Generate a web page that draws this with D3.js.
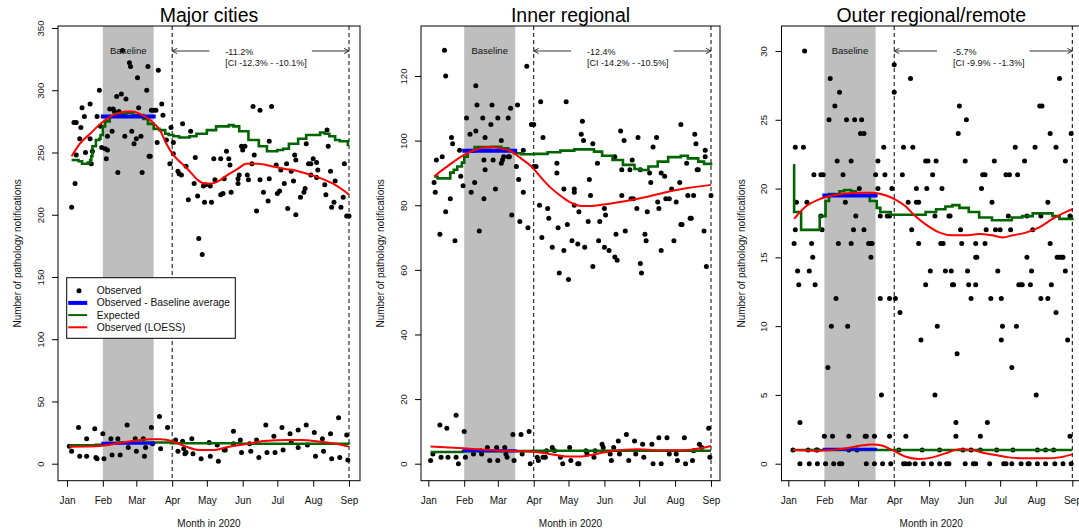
<!DOCTYPE html>
<html>
<head>
<meta charset="utf-8">
<script src="https://cdn.jsdelivr.net/npm/d3@7"></script>
<style>
  body { margin: 0; background: #fff; }
  svg { display: block; font-family: "Liberation Sans", Arial, Helvetica, sans-serif; }
</style>
</head>
<body>
<div id="container"></div>
<script>
/* DATA  (day = days since 1 Jan 2020) */
const titles = ["Major cities", "Inner regional", "Outer regional/remote"];
const changeText = ["-11.2%", "-12.4%", "-5.7%"];
const ciText = ["[CI -12.3% - -10.1%]", "[CI -14.2% - -10.5%]", "[CI -9.9% - -1.3%]"];
const legendItems = ["Observed", "Observed - Baseline average", "Expected", "Observed (LOESS)"];
const baselineDays = [31, 75];     // Feb 1 - mid March
const comparisonDays = [91, 244];  // Apr 1 - Sep 1
const yMaxes = [350, 120, 30];
const ySteps = [50, 20, 5];
// [upper, lower] baseline averages
const baselineAvg = [[279, 16.4], [96.9, 4.0], [19.5, 1.05]];

const majorObs = [[4,206],[6,274],[7,225],[8,274],[8,248],[11,261],[12,270],[13,286],[15,279],[16,250],[20,289],[20,261],[21,241],[22,251],[26,279],[28,300],[29,271],[30,254],[33,253],[34,245],[35,263],[35,252],[37,285],[39,267],[40,285],[41,283],[43,295],[44,234],[45,283],[46,280],[47,297],[48,332],[50,263],[51,293],[54,322],[55,319],[56,267],[58,257],[60,261],[61,310],[62,286],[64,263],[65,234],[69,300],[70,319],[71,247],[72,247],[73,284],[75,284],[77,284],[78,258],[79,316],[82,289],[83,280],[86,260],[89,241],[90,270],[92,258],[92,249],[96,235],[97,233],[99,232],[100,273],[103,239],[105,212],[107,267],[110,225],[111,246],[113,215],[114,181],[117,168],[118,223],[119,210],[120,224],[124,223],[125,210],[127,245],[128,228],[133,245],[133,216],[135,217],[136,229],[138,251],[140,245],[141,240],[142,218],[148,225],[148,229],[149,232],[151,255],[152,252],[154,255],[156,232],[157,228],[160,241],[161,287],[162,248],[164,203],[167,228],[167,284],[170,218],[174,211],[175,259],[175,229],[177,287],[181,240],[182,217],[184,219],[185,236],[188,225],[190,241],[191,205],[194,235],[196,227],[197,248],[198,244],[198,200],[202,214],[205,218],[206,221],[207,257],[209,241],[211,232],[211,241],[213,245],[216,242],[216,230],[217,236],[223,224],[224,216],[225,268],[226,255],[228,235],[229,206],[231,210],[232,227],[237,206],[239,214],[240,241],[242,199],[244,199]];
const majorObsLow = [[2,14],[4,10],[10,29],[11,6],[17,20],[17,6],[24,28],[25,5],[26,4],[31,24],[32,4],[38,20],[39,7],[44,20],[46,7],[52,31],[53,13],[59,20],[60,10],[66,20],[67,6],[68,13],[73,29],[74,16],[80,38],[81,12],[87,29],[94,19],[96,10],[100,18],[101,12],[102,8],[103,9],[108,20],[109,8],[116,4],[123,17],[124,6],[130,15],[131,2],[136,11],[137,11],[144,26],[144,16],[150,19],[151,9],[158,16],[159,10],[164,19],[166,5],[172,31],[173,9],[179,22],[180,9],[186,29],[187,11],[193,24],[194,17],[200,27],[200,13],[207,31],[208,15],[214,25],[215,6],[221,20],[222,10],[228,24],[229,4],[235,37],[236,5],[242,23],[243,3]];
const majorExpected = [[4,244],[10,243],[13,241],[18,242],[20,244],[21,247],[22,255],[25,260],[28,261],[29,264],[31,271],[33,275],[37,279],[41,281],[51,282],[57,280],[62,280],[66,277],[70,273],[75,269],[80,268],[85,265],[88,264],[92,263],[97,262],[106,263],[112,265],[121,268],[129,271],[140,272],[144,271],[149,267],[157,260],[166,255],[173,251],[182,252],[187,253],[192,257],[200,261],[207,264],[219,266],[223,265],[227,263],[232,260],[236,259],[243,256],[244,256]];
const majorExpectedLow = [[2,14.8],[25,15.2],[35,16.5],[45,17],[80,17],[90,16.4],[150,16],[244,15.6]];
const majorLoess = [[4,247],[11,257],[20,265],[29,273],[40,280],[52,283],[57,283],[63,281],[72,276],[81,267],[86,257],[92,248],[96,244],[102,239],[108,233],[113,228],[120,225],[125,225],[131,227],[139,232],[148,237],[155,241],[165,241],[177,239],[188,237],[200,235],[211,232],[223,228],[232,224],[240,219],[244,216]];
const majorLoessLow = [[2,13.7],[29,14.3],[52,17.7],[72,19.6],[81,19.6],[92,17.7],[103,13.7],[115,11],[127,11],[138,13.2],[155,15.8],[173,18.5],[190,19],[203,19],[219,17.7],[230,16.4],[244,13.7]];

const innerObs = [[5,87],[6,84],[7,94],[10,71],[12,95],[14,128],[15,120],[15,78],[19,82],[20,101],[21,99],[23,69],[27,97],[28,89],[30,86],[33,107],[36,102],[37,84],[40,87],[41,117],[41,103],[42,111],[44,72],[47,107],[48,94],[48,82],[49,101],[49,91],[54,105],[55,111],[56,94],[58,85],[60,107],[63,100],[63,93],[64,94],[65,95],[69,107],[69,95],[70,95],[71,110],[72,77],[76,92],[77,111],[78,88],[79,75],[82,97],[82,84],[85,123],[86,73],[89,105],[91,105],[91,92],[93,92],[96,80],[97,112],[98,70],[99,101],[103,79],[104,76],[107,67],[111,93],[111,90],[112,73],[113,59],[117,66],[117,85],[119,112],[120,74],[121,57],[124,69],[126,85],[126,84],[126,80],[129,68],[130,78],[132,102],[133,106],[134,100],[135,67],[138,75],[139,88],[140,83],[142,99],[142,61],[146,93],[147,69],[148,75],[152,79],[152,67],[153,77],[156,66],[161,95],[161,64],[162,71],[163,63],[166,103],[167,83],[167,91],[169,100],[170,72],[174,91],[175,82],[176,94],[177,82],[180,79],[181,101],[183,91],[183,62],[184,59],[187,71],[188,69],[189,78],[191,90],[192,87],[194,98],[197,101],[198,81],[199,79],[201,90],[201,66],[204,89],[205,82],[208,82],[210,85],[212,69],[214,81],[217,87],[218,105],[218,74],[219,74],[223,93],[224,83],[226,76],[227,76],[229,83],[230,102],[231,99],[232,91],[233,91],[238,72],[239,95],[239,97],[240,61],[244,83]];
const innerObsLow = [[2,1],[4,3],[10,12],[11,2],[16,11],[17,2],[24,15],[24,2],[26,0],[31,10],[32,2],[39,3],[45,4],[46,3],[51,5],[53,1],[59,5],[60,1],[66,5],[67,3],[68,2],[73,9],[74,1],[80,9],[81,3],[87,10],[88,0],[94,2],[95,1],[99,2],[101,2],[102,4],[107,5],[109,4],[114,2],[116,0],[122,5],[123,1],[129,0],[130,0],[136,4],[137,3],[143,2],[144,4],[150,6],[151,5],[157,3],[158,1],[160,5],[164,7],[165,3],[171,9],[173,1],[178,7],[179,3],[185,6],[186,2],[193,6],[194,0],[199,8],[201,0],[206,8],[208,3],[214,3],[215,1],[221,8],[222,0],[228,1],[229,4],[234,6],[236,5],[242,11],[243,2]];
const innerExpected = [[5,88.9],[8,88.3],[19,90.1],[22,91],[25,92],[29,93.2],[31,95],[34,96.6],[40,98],[54,98.1],[63,97.6],[69,96.9],[74,96.1],[80,95.8],[91,95.9],[103,96.4],[114,96.9],[126,97.3],[136,97.3],[143,96.6],[150,95.3],[159,94],[168,92.5],[178,91.2],[183,90.9],[190,92],[198,93.5],[207,94.9],[218,95.3],[224,94.5],[233,93.5],[238,92.8],[244,92.3]];
const innerExpectedLow = [[2,3.6],[30,3.9],[90,4],[244,4]];
const innerLoess = [[5,88.9],[14,91.4],[22,93.5],[31,95.6],[40,97.1],[51,98],[63,97.6],[72,96.6],[80,94.5],[89,92],[98,88.3],[106,85.3],[115,82.7],[123,80.8],[132,79.8],[141,79.8],[155,80.4],[172,81.4],[190,82.7],[207,84.2],[224,85.3],[244,86.3]];
const innerLoessLow = [[2,5.3],[30,4.8],[60,4.1],[90,3.7],[105,3],[120,2.2],[130,2.2],[145,3],[160,4],[180,4.5],[200,4.2],[220,4.2],[235,4.8],[244,5.5]];

const outerObs = [[14,30],[91,29],[36,28],[105,28],[233,28],[44,27],[91,27],[40,26],[147,26],[216,26],[218,26],[35,25],[50,25],[57,25],[63,25],[153,25],[62,24],[65,24],[146,24],[225,24],[243,24],[6,23],[13,23],[82,23],[99,23],[107,23],[195,23],[212,23],[230,23],[42,22],[54,22],[77,22],[118,22],[120,22],[127,22],[152,22],[177,22],[203,22],[238,22],[22,21],[28,21],[30,21],[47,21],[75,21],[83,21],[98,21],[124,21],[167,21],[169,21],[187,21],[190,21],[197,21],[61,20],[77,20],[89,20],[110,20],[119,20],[132,20],[166,20],[7,19],[16,19],[49,19],[103,19],[110,19],[112,19],[175,19],[223,19],[28,18],[58,18],[79,18],[85,18],[87,18],[126,18],[138,18],[139,18],[189,18],[205,18],[217,18],[242,18],[6,17],[29,17],[56,17],[65,17],[106,17],[148,17],[170,17],[178,17],[182,17],[191,17],[210,17],[5,16],[20,16],[43,16],[54,16],[69,16],[71,16],[72,16],[112,16],[131,16],[133,16],[149,16],[161,16],[169,16],[225,16],[21,15],[71,15],[161,15],[162,15],[205,15],[231,15],[233,15],[235,15],[236,15],[8,14],[18,14],[122,14],[135,14],[140,14],[154,14],[180,14],[209,14],[238,14],[9,13],[23,13],[118,13],[141,13],[142,13],[155,13],[161,13],[198,13],[200,13],[201,13],[208,13],[226,13],[41,12],[79,12],[87,12],[92,12],[157,12],[174,12],[183,12],[217,12],[223,12],[96,11],[230,11],[37,10],[51,10],[128,10],[184,10],[196,10],[114,9],[183,9],[240,9],[145,8],[34,7],[192,7],[80,5],[126,5],[213,5]];
const outerObsLow = [[10,3],[144,3],[171,3],[31,2],[38,2],[52,2],[66,2],[67,2],[74,2],[87,2],[101,2],[144,2],[165,2],[242,2],[4,1],[17,1],[24,1],[25,1],[52,1],[59,1],[95,1],[115,1],[130,1],[150,1],[157,1],[165,1],[179,1],[193,1],[214,1],[221,1],[228,1],[10,0],[18,0],[25,0],[32,0],[39,0],[44,0],[46,0],[67,0],[74,0],[81,0],[88,0],[99,0],[101,0],[104,0],[109,0],[116,0],[123,0],[130,0],[136,0],[138,0],[152,0],[159,0],[161,0],[173,0],[185,0],[187,0],[192,0],[200,0],[206,0],[207,0],[214,0],[221,0],[229,0],[236,0],[243,0]];
const outerExpected = [[4,21.7],[5,18.3],[11,17],[27,18],[32,19.1],[35,19.6],[39,19.6],[44,19.8],[48,19.9],[54,19.8],[58,19.5],[70,19.1],[76,18.6],[79,18.3],[88,18.1],[118,18.3],[127,18.5],[135,18.7],[141,18.8],[147,18.6],[155,18.3],[164,17.9],[175,17.7],[192,17.9],[201,18],[210,18.2],[227,18],[233,17.8],[244,17.7]];
const outerExpectedLow = [[4,1],[244,1]];
const outerLoess = [[5,17.8],[15,18.7],[26,19.2],[38,19.5],[49,19.65],[61,19.7],[72,19.7],[84,19.5],[92,19.2],[101,18.7],[109,18],[118,17.4],[130,16.8],[141,16.6],[152,16.6],[164,16.7],[175,16.6],[184,16.45],[193,16.6],[204,16.8],[216,17.2],[227,17.8],[241,18.4],[244,18.5]];
const outerLoessLow = [[4,1],[26,0.95],[49,1.1],[61,1.3],[72,1.4],[81,1.3],[89,1],[101,0.5],[112,0.34],[124,0.46],[135,0.75],[147,1.05],[158,1],[167,0.8],[178,0.63],[190,0.46],[204,0.39],[221,0.39],[233,0.46],[244,0.68]];

/* LAYOUT */
const W = 1079, H = 530;
const boxTop = 26, boxBottom = 480.7;
const zeroY = 463.7;
// per panel: box left/right, pixel of Jan 1 and Sep 1, pixel of yMax
const layout = [
  {boxL: 58,    boxR: 360,  x0: 67,    x1: 349,    yTop: 28},
  {boxL: 421,   boxR: 720,  x0: 428.3, x1: 711,    yTop: 76},
  {boxL: 781.5, boxR: 1081, x0: 788.3, x1: 1072.3, yTop: 51}
];
const series = [
  {obs: majorObs, obsLow: majorObsLow, exp: majorExpected, expLow: majorExpectedLow, loess: majorLoess, loessLow: majorLoessLow},
  {obs: innerObs, obsLow: innerObsLow, exp: innerExpected, expLow: innerExpectedLow, loess: innerLoess, loessLow: innerLoessLow},
  {obs: outerObs, obsLow: outerObsLow, exp: outerExpected, expLow: outerExpectedLow, loess: outerLoess, loessLow: outerLoessLow}
];

const toDate = d => new Date(2020, 0, 1 + d);

const svg = d3.select("#container")
  .append("svg")
  .attr("width", W)
  .attr("height", H);

series.forEach((s, i) => {
  const L = layout[i];
  const x = d3.scaleTime().domain([toDate(0), toDate(244)]).range([L.x0, L.x1]);
  const y = d3.scaleLinear().domain([0, yMaxes[i]]).range([zeroY, L.yTop]);

  const clipId = "clip" + i;
  svg.append("clipPath").attr("id", clipId)
    .append("rect")
    .attr("x", L.boxL).attr("y", boxTop)
    .attr("width", L.boxR - L.boxL).attr("height", boxBottom - boxTop);

  const g = svg.append("g").attr("clip-path", `url(#${clipId})`);

  // baseline shading
  g.append("rect")
    .attr("x", x(toDate(baselineDays[0])))
    .attr("y", boxTop)
    .attr("width", x(toDate(baselineDays[1])) - x(toDate(baselineDays[0])))
    .attr("height", boxBottom - boxTop)
    .attr("fill", "#bebebe");

  // dashed verticals
  comparisonDays.forEach(d => {
    g.append("line")
      .attr("x1", x(toDate(d))).attr("x2", x(toDate(d)))
      .attr("y1", boxTop).attr("y2", boxBottom)
      .attr("stroke", "#000").attr("stroke-width", 1)
      .attr("stroke-dasharray", "4,3");
  });

  // points
  g.append("g").selectAll("circle")
    .data(s.obs.concat(s.obsLow))
    .join("circle")
    .attr("cx", d => x(toDate(d[0])))
    .attr("cy", d => y(d[1]))
    .attr("r", 2.5)
    .attr("fill", "#000");

  const step = d3.line().curve(d3.curveStepAfter)
    .x(d => x(toDate(d[0]))).y(d => y(d[1]));
  const smooth = d3.line().curve(d3.curveMonotoneX)
    .x(d => x(toDate(d[0]))).y(d => y(d[1]));

  [s.exp, s.expLow].forEach(arr => {
    g.append("path").attr("d", step(arr))
      .attr("fill", "none").attr("stroke", "#006400").attr("stroke-width", 2.6);
  });

  baselineAvg[i].forEach((v, k) => {
    g.append("line")
      .attr("x1", x(toDate(baselineDays[0]))).attr("x2", x(toDate(baselineDays[1])))
      .attr("y1", y(v)).attr("y2", y(v))
      .attr("stroke", "#0000ff").attr("stroke-width", k === 0 ? 4 : 3)
      .attr("stroke-linecap", "square");
  });

  [s.loess, s.loessLow].forEach(arr => {
    g.append("path").attr("d", smooth(arr))
      .attr("fill", "none").attr("stroke", "#ff0000").attr("stroke-width", 2);
  });

  // box
  svg.append("rect")
    .attr("x", L.boxL).attr("y", boxTop)
    .attr("width", L.boxR - L.boxL).attr("height", boxBottom - boxTop)
    .attr("fill", "none").attr("stroke", "#000").attr("stroke-width", 1);

  // x axis
  const xAxis = svg.append("g")
    .attr("transform", `translate(0,${boxBottom})`)
    .call(d3.axisBottom(x)
      .tickValues(d3.timeMonth.range(toDate(0), toDate(245)))
      .tickFormat(d3.timeFormat("%b"))
      .tickSize(6).tickPadding(10));
  xAxis.select(".domain").remove();
  xAxis.selectAll("text").attr("font-family", null).attr("font-size", 10).attr("fill", "#111");

  // y axis with rotated labels
  const yAxis = svg.append("g")
    .attr("transform", `translate(${L.boxL},0)`)
    .call(d3.axisLeft(y)
      .tickValues(d3.range(0, yMaxes[i] + 1, ySteps[i]))
      .tickSize(6));
  yAxis.select(".domain").remove();
  yAxis.selectAll("text")
    .attr("font-family", null).attr("font-size", 9.5).attr("fill", "#111")
    .attr("transform", "rotate(-90)")
    .attr("text-anchor", "middle")
    .attr("x", 0).attr("dy", null)
    .attr("y", -14.5);

  const cx = (L.boxL + L.boxR) / 2;
  svg.append("text")
    .attr("x", cx).attr("y", 22)
    .attr("text-anchor", "middle")
    .attr("font-size", 19.5)
    .text(titles[i]);

  svg.append("text")
    .attr("x", cx).attr("y", 527)
    .attr("text-anchor", "middle")
    .attr("font-size", 10)
    .attr("fill", "#111")
    .text("Month in 2020");

  svg.append("text")
    .attr("transform", `translate(${L.boxL - 37},${(boxTop + boxBottom) / 2}) rotate(-90)`)
    .attr("text-anchor", "middle")
    .attr("font-size", 10)
    .attr("fill", "#111")
    .text("Number of pathology notifications");

  // baseline label
  svg.append("text")
    .attr("x", (x(toDate(baselineDays[0])) + x(toDate(baselineDays[1]))) / 2)
    .attr("y", 54)
    .attr("text-anchor", "middle")
    .attr("font-size", 9.5)
    .attr("fill", "#111")
    .text("Baseline");

  // change arrow with text
  const ax0 = x(toDate(comparisonDays[0])), ax1 = x(toDate(comparisonDays[1]));
  const mid = (ax0 + ax1) / 2, ay = 51;
  const t1 = svg.append("text").attr("y", 54.5).attr("font-size", 9).attr("fill", "#111").text(changeText[i]);
  const t2 = svg.append("text").attr("y", 65.5).attr("font-size", 9).attr("fill", "#111").text(ciText[i]);
  const tw = Math.max(t1.node().getComputedTextLength(), t2.node().getComputedTextLength());
  const tx = mid - tw / 2 + 5.5;
  t1.attr("x", tx); t2.attr("x", tx);
  const gap = tw / 2 + 10.5;
  const arrowColor = "#333";
  [[ax0, mid - gap], [mid + gap, ax1]].forEach(seg => {
    svg.append("line")
      .attr("x1", seg[0]).attr("x2", seg[1]).attr("y1", ay).attr("y2", ay)
      .attr("stroke", arrowColor).attr("stroke-width", 1);
  });
  const ah = 5, aw = 2.6;
  svg.append("path")
    .attr("d", `M${ax0 + ah},${ay - aw}L${ax0},${ay}L${ax0 + ah},${ay + aw}`)
    .attr("fill", "none").attr("stroke", arrowColor);
  svg.append("path")
    .attr("d", `M${ax1 - ah},${ay - aw}L${ax1},${ay}L${ax1 - ah},${ay + aw}`)
    .attr("fill", "none").attr("stroke", arrowColor);
});

/* LEGEND (first panel) */
const leg = svg.append("g").attr("transform", "translate(66.7,277.7)");
leg.append("rect")
  .attr("width", 168.6).attr("height", 60.6)
  .attr("fill", "#fff").attr("stroke", "#000").attr("stroke-width", 1);
legendItems.forEach((label, k) => {
  const ry = 13 + k * 12.2;
  if (k === 0) {
    leg.append("circle").attr("cx", 12.3).attr("cy", ry).attr("r", 2.5).attr("fill", "#000");
  } else {
    leg.append("line")
      .attr("x1", 1.5).attr("x2", 20.5).attr("y1", ry).attr("y2", ry)
      .attr("stroke", ["", "#0000ff", "#006400", "#ff0000"][k])
      .attr("stroke-width", k === 1 ? 4 : 2);
  }
  leg.append("text")
    .attr("x", 30).attr("y", ry + 3.6)
    .attr("font-size", 10.3)
    .attr("fill", "#111")
    .text(label);
});
</script>
</body>
</html>
